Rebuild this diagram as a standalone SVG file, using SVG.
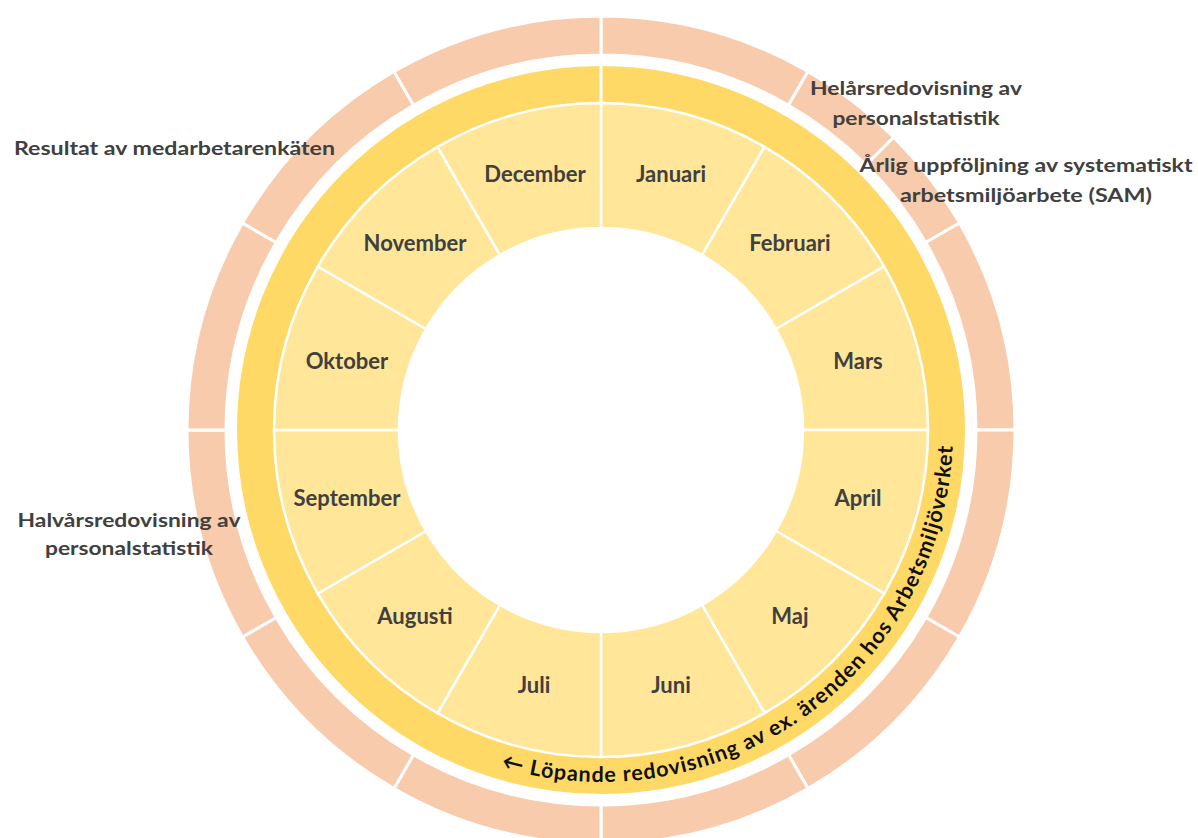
<svg xmlns="http://www.w3.org/2000/svg" width="1198" height="838" viewBox="0 0 1198 838">
<style>
.seg{fill:#F8CBAD;stroke:#FFFFFF;stroke-width:3}
.mon{fill:#FFE699;stroke:#FFFFFF;stroke-width:2.5}
.ml{font-family:Lato,"Open Sans",sans-serif;font-weight:700;font-size:22px;fill:#404040;text-anchor:middle}
.ol{font-family:Lato,"Open Sans",sans-serif;font-weight:700;font-size:19.5px;fill:#404040}
.rt{font-family:Lato,"Open Sans","DejaVu Sans",sans-serif;font-weight:700;font-size:21.5px;fill:#111111}
</style>
<defs>
<path id="ringPath" d="M 501 767.5 A 352 352 0 0 0 951.7 399.3"/>
</defs>
<rect x="0" y="0" width="1198" height="838" fill="#FFFFFF"/>

<g id="outer-ring">
<path class="seg" d="M 601 55 L 601 16 A 414 414 0 0 1 808 71.47 L 788.5 105.24 A 375 375 0 0 0 601 55 Z"/>
<path class="seg" d="M 788.5 105.24 L 808 71.47 A 414 414 0 0 1 893.74 137.26 L 866.17 164.83 A 375 375 0 0 0 788.5 105.24 Z"/>
<path class="seg" d="M 866.17 164.83 L 893.74 137.26 A 414 414 0 0 1 959.53 223 L 925.76 242.5 A 375 375 0 0 0 866.17 164.83 Z"/>
<path class="seg" d="M 925.76 242.5 L 959.53 223 A 414 414 0 0 1 1015 430 L 976 430 A 375 375 0 0 0 925.76 242.5 Z"/>
<path class="seg" d="M 976 430 L 1015 430 A 414 414 0 0 1 959.53 637 L 925.76 617.5 A 375 375 0 0 0 976 430 Z"/>
<path class="seg" d="M 925.76 617.5 L 959.53 637 A 414 414 0 0 1 808 788.53 L 788.5 754.76 A 375 375 0 0 0 925.76 617.5 Z"/>
<path class="seg" d="M 788.5 754.76 L 808 788.53 A 414 414 0 0 1 601 844 L 601 805 A 375 375 0 0 0 788.5 754.76 Z"/>
<path class="seg" d="M 601 805 L 601 844 A 414 414 0 0 1 394 788.53 L 413.5 754.76 A 375 375 0 0 0 601 805 Z"/>
<path class="seg" d="M 413.5 754.76 L 394 788.53 A 414 414 0 0 1 242.47 637 L 276.24 617.5 A 375 375 0 0 0 413.5 754.76 Z"/>
<path class="seg" d="M 276.24 617.5 L 242.47 637 A 414 414 0 0 1 187 430 L 226 430 A 375 375 0 0 0 276.24 617.5 Z"/>
<path class="seg" d="M 226 430 L 187 430 A 414 414 0 0 1 242.47 223 L 276.24 242.5 A 375 375 0 0 0 226 430 Z"/>
<path class="seg" d="M 276.24 242.5 L 242.47 223 A 414 414 0 0 1 394 71.47 L 413.5 105.24 A 375 375 0 0 0 276.24 242.5 Z"/>
<path class="seg" d="M 413.5 105.24 L 394 71.47 A 414 414 0 0 1 601 16 L 601 55 A 375 375 0 0 0 413.5 105.24 Z"/>
</g>

<g id="yellow-ring">
<circle cx="601" cy="430" r="345.5" fill="none" stroke="#FFD966" stroke-width="37"/>
<line x1="601" y1="63" x2="601" y2="105" stroke="#FFFFFF" stroke-width="3"/>
<text class="rt" textLength="638" lengthAdjust="spacing"><textPath href="#ringPath">← Löpande redovisning av ex. ärenden hos Arbetsmiljöverket</textPath></text>
</g>

<g id="januari"><path class="mon" d="M 601 228 L 601 103 A 327 327 0 0 1 764.5 146.81 L 702 255.06 A 202 202 0 0 0 601 228 Z"/><text class="ml" x="671" y="182">Januari</text></g>
<g id="februari"><path class="mon" d="M 702 255.06 L 764.5 146.81 A 327 327 0 0 1 884.19 266.5 L 775.94 329 A 202 202 0 0 0 702 255.06 Z"/><text class="ml" x="790" y="251">Februari</text></g>
<g id="mars"><path class="mon" d="M 775.94 329 L 884.19 266.5 A 327 327 0 0 1 928 430 L 803 430 A 202 202 0 0 0 775.94 329 Z"/><text class="ml" x="858" y="369">Mars</text></g>
<g id="april"><path class="mon" d="M 803 430 L 928 430 A 327 327 0 0 1 884.19 593.5 L 775.94 531 A 202 202 0 0 0 803 430 Z"/><text class="ml" x="858" y="506">April</text></g>
<g id="maj"><path class="mon" d="M 775.94 531 L 884.19 593.5 A 327 327 0 0 1 764.5 713.19 L 702 604.94 A 202 202 0 0 0 775.94 531 Z"/><text class="ml" x="790" y="624">Maj</text></g>
<g id="juni"><path class="mon" d="M 702 604.94 L 764.5 713.19 A 327 327 0 0 1 601 757 L 601 632 A 202 202 0 0 0 702 604.94 Z"/><text class="ml" x="671" y="693">Juni</text></g>
<g id="juli"><path class="mon" d="M 601 632 L 601 757 A 327 327 0 0 1 437.5 713.19 L 500 604.94 A 202 202 0 0 0 601 632 Z"/><text class="ml" x="534" y="693">Juli</text></g>
<g id="augusti"><path class="mon" d="M 500 604.94 L 437.5 713.19 A 327 327 0 0 1 317.81 593.5 L 426.06 531 A 202 202 0 0 0 500 604.94 Z"/><text class="ml" x="415" y="624">Augusti</text></g>
<g id="september"><path class="mon" d="M 426.06 531 L 317.81 593.5 A 327 327 0 0 1 274 430 L 399 430 A 202 202 0 0 0 426.06 531 Z"/><text class="ml" x="347" y="506">September</text></g>
<g id="oktober"><path class="mon" d="M 399 430 L 274 430 A 327 327 0 0 1 317.81 266.5 L 426.06 329 A 202 202 0 0 0 399 430 Z"/><text class="ml" x="347" y="369">Oktober</text></g>
<g id="november"><path class="mon" d="M 426.06 329 L 317.81 266.5 A 327 327 0 0 1 437.5 146.81 L 500 255.06 A 202 202 0 0 0 426.06 329 Z"/><text class="ml" x="415" y="251">November</text></g>
<g id="december"><path class="mon" d="M 500 255.06 L 437.5 146.81 A 327 327 0 0 1 601 103 L 601 228 A 202 202 0 0 0 500 255.06 Z"/><text class="ml" x="535" y="182">December</text></g>

<g id="label-resultat"><text class="ol" x="14" y="155" textLength="321" lengthAdjust="spacingAndGlyphs">Resultat av medarbetarenkäten</text></g>
<g id="label-helars" text-anchor="middle">
<text class="ol" x="916" y="95" textLength="212" lengthAdjust="spacingAndGlyphs">Helårsredovisning av</text>
<text class="ol" x="916" y="125" textLength="167" lengthAdjust="spacingAndGlyphs">personalstatistik</text>
</g>
<g id="label-sam" text-anchor="middle">
<text class="ol" x="1026" y="172" textLength="333" lengthAdjust="spacingAndGlyphs">Årlig uppföljning av systematiskt</text>
<text class="ol" x="1026" y="202" textLength="252" lengthAdjust="spacingAndGlyphs">arbetsmiljöarbete (SAM)</text>
</g>
<g id="label-halvars" text-anchor="middle">
<text class="ol" x="129" y="527" textLength="223" lengthAdjust="spacingAndGlyphs">Halvårsredovisning av</text>
<text class="ol" x="129" y="555" textLength="168" lengthAdjust="spacingAndGlyphs">personalstatistik</text>
</g>
</svg>
